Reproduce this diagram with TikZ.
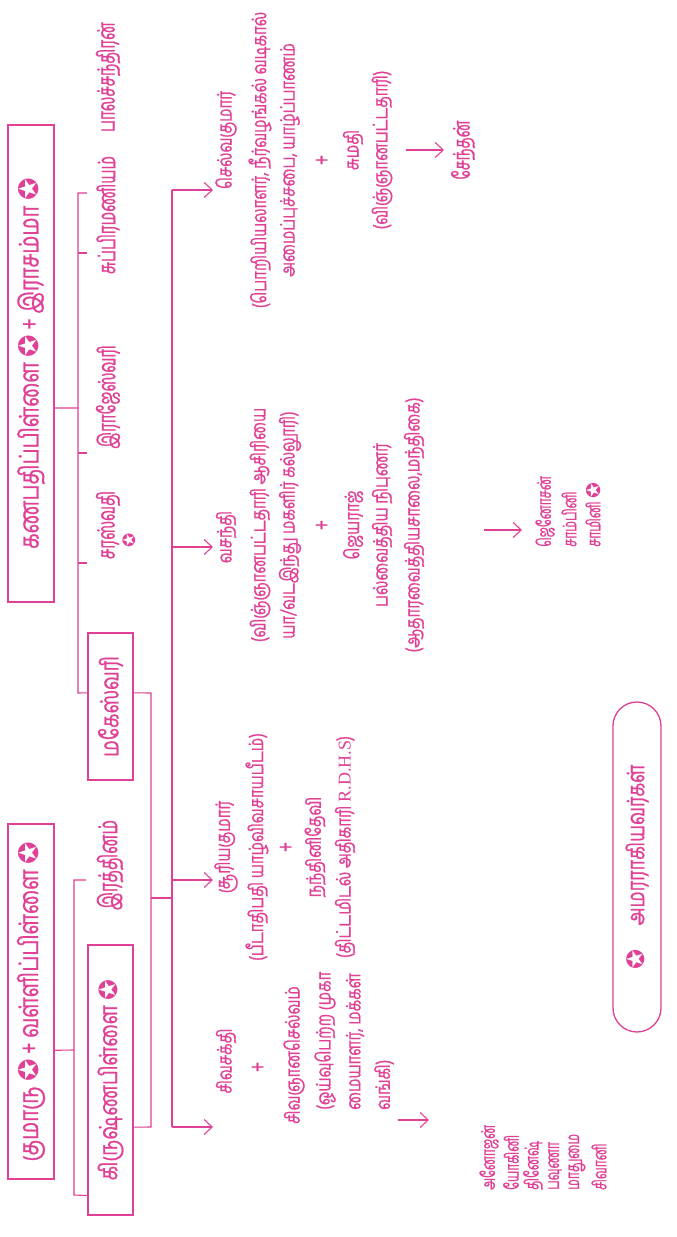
\documentclass[tikz,border=0pt]{standalone}
\usepackage{fontspec}
\usetikzlibrary{arrows.meta,calc}
\newfontfamily\tam[Script=Tamil,FakeStretch=0.75,FakeBold=0.8]{Hind Madurai}
\newfontfamily\tamn[Script=Tamil,FakeStretch=0.63,FakeBold=0.8]{Hind Madurai}
\newfontfamily\symf{DejaVu Sans}
\newfontfamily\romf{Liberation Serif}
\definecolor{ink}{RGB}{224,64,150}
\newcommand{\stsym}{{\symf ✪}}
\begin{document}
\begin{tikzpicture}[x=1pt,y=1pt,rotate=90,transform shape,
  box/.style={draw=ink,line width=1.3pt,inner sep=0pt,text=ink,font=\tam\fontsize{27}{30}\selectfont},
  boxb/.style={box,font=\tam\fontsize{25}{28}\selectfont},
  lbl/.style={text=ink,inner sep=0pt,font=\tamn\fontsize{24}{26}\selectfont},
  tl/.style={text=ink,inner sep=0pt,font=\tam\fontsize{20}{22}\selectfont},
  pl/.style={text=ink,inner sep=0pt,font=\tam\fontsize{25}{26}\selectfont},
  nm/.style={text=ink,inner sep=0pt,font=\tamn\fontsize{19}{21}\selectfont},
  conn/.style={draw=ink,line width=1.1pt},
  arr/.style={draw=ink,line width=1.1pt,-{Straight Barb[length=8pt,width=15pt,line width=1.1pt]}}]
\path[fill=white] (0,0) rectangle (1237,677);
% level 1
\node[box,minimum width=355pt,minimum height=46pt] (A) at (235.5,646) {குமாரு \stsym{} + வள்ளிப்பிள்ளை \stsym};
\node[box,minimum width=477pt,minimum height=46pt] (B) at (873.5,646) {கணபதிப்பிள்ளை \stsym{} + இராசம்மா \stsym};
% level 2
\node[boxb,minimum width=270pt,minimum height=45pt] (C) at (157,566.5) {கிருஷ்ணபிள்ளை \stsym};
\node[lbl,font=\tamn\fontsize{26}{28}\selectfont] (ratn) at (372,567) {இரத்தினம்};
\node[boxb,minimum width=147pt,minimum height=45pt] (M) at (530.5,566.5) {மகேஸ்வரி};
\node[lbl] (sar) at (712,569) {சரஸ்வதி};
\node[lbl,font=\fontsize{17}{18}\selectfont] (sarst) at (697,548) {\stsym};
\node[lbl] (raj) at (840,569) {இராஜேஸ்வரி};
\node[lbl] (sub) at (1022,569) {சுப்பிரமணியம்};
\node[lbl] (bal) at (1160,569) {பாலச்சந்திரன்};
% connectors level 1 -> 2
\coordinate (bA) at (187,603);
\coordinate (bA1) at (42,603);
\coordinate (bA2) at (357,603);
\coordinate (rA) at (357,591);
\draw[conn] ($(A.south west)!0.363!(A.south east)$) -- (bA);
\draw[conn] ($(C.north west)!0.074!(C.north east)$) -- (bA1) -- (bA2) -- (rA);
\coordinate (bB) at (829,599);
\coordinate (bB1) at (544,599);
\coordinate (bB2) at (1044,599);
\coordinate (sB1) at (674,599);
\coordinate (sB2) at (784,599);
\coordinate (sB3) at (984,599);
\draw[conn] ($(B.south west)!0.407!(B.south east)$) -- (bB);
\draw[conn] ($(M.north west)!0.592!(M.north east)$) -- (bB1) -- (bB2) -- (1044,590);
\draw[conn] (sB1) -- (674,590);
\draw[conn] (sB2) -- (784,590);
\draw[conn] (sB3) -- (984,590);
% parents -> trunk
\coordinate (mj) at (544,526);
\coordinate (cj) at (110,526);
\coordinate (tj) at (339,526);
\coordinate (tr0) at (339,505);
\draw[conn] ($(M.south west)!0.592!(M.south east)$) -- (mj) -- (cj) -- ($(C.south west)!0.326!(C.south east)$);
\draw[conn] (tj) -- (tr0);
\coordinate (t1) at (110,505);
\coordinate (t2) at (357,505);
\coordinate (t3) at (690,505);
\coordinate (t4) at (1047,505);
\draw[conn] (t1) -- (t4);
\coordinate (h1) at (110,464);
\coordinate (h2) at (357,464);
\coordinate (h3) at (690,464);
\coordinate (h4) at (1047,464);
\draw[arr] (t1) -- (h1);
\draw[arr] (t2) -- (h2);
\draw[arr] (t3) -- (h3);
\draw[arr] (t4) -- (h4);
% column 1
\node[tl] (c1a) at (176,451) {சிவசக்தி};
\node[pl] (c1b) at (170,418) {+};
\node[tl] (c1c) at (182,383) {சிவஞானசெல்வம்};
\node[tl,anchor=west] (c1d) at (127,352) {(ஓய்வுபெற்ற முகா};
\node[tl,anchor=west] (c1e) at (127,322) {மையாளர், மக்கள்};
\node[tl,anchor=west] (c1f) at (127,293) {வங்கி)};
\coordinate (k1) at (117,279);
\draw[arr] (k1) -- (117,248);
\node[nm,anchor=west] (n1) at (47,188) {அனோஜன்};
\node[nm,anchor=west] (n2) at (47,166) {யோகினி};
\node[nm,anchor=west] (n3) at (47,144) {தினேஷ்};
\node[nm,anchor=west] (n4) at (47,122) {பவுணா};
\node[nm,anchor=west] (n5) at (47,100) {மாதுமை};
\node[nm,anchor=west] (n6) at (47,78) {சிவானி};
% column 2
\node[tl] (c2a) at (390,451) {சூரியகுமார்};
\node[tl] (c2b) at (390,420) {(பீடாதிபதி யாழ்விவசாயபீடம்)};
\node[pl] (c2c) at (390,390) {+};
\node[tl] (c2d) at (390,362) {நந்தினிதேவி};
\node[tl] (c2e) at (390,332) {(திட்டமிடல் அதிகாரி {\romf\fontsize{18}{20}\selectfont R.D.H.S})};
% column 3
\node[tl] (c3a) at (700,451) {வசந்தி};
\node[tl] (c3b) at (712,417) {(விஞ்ஞானபட்டதாரி ஆசிரியை};
\node[tl] (c3c) at (712,387) {யா/வடஇந்து மகளிர் கல்லூரி)};
\node[pl] (c3d) at (712,354) {+};
\node[tl] (c3e) at (712,324) {ஜெயராஜ்};
\node[tl] (c3f) at (712,295) {பல்வைத்திய நிபுணர்};
\node[tl] (c3g) at (712,263) {(ஆதாரவைத்தியசாலை,மந்திகை)};
\coordinate (k3) at (707,193);
\draw[arr] (k3) -- (707,155);
\node[nm,anchor=west] (m1) at (690,132) {ஜெனோசன்};
\node[nm,anchor=west] (m2) at (690,108) {சாம்பினி};
\node[nm,anchor=west] (m3) at (690,84) {சாமினி \stsym};
% column 4
\node[tl] (c4a) at (1097,451) {செல்வகுமார்};
\node[tl] (c4b) at (1077,417) {(பொறியியலாளர், நீர்வழங்கல் வடிகால்};
\node[tl] (c4c) at (1077,387) {அமைப்புச்சபை, யாழ்ப்பாணம்};
\node[pl] (c4d) at (1077,354) {+};
\node[tl] (c4e) at (1087,324) {சுமதி};
\node[tl] (c4f) at (1087,295) {(விஞ்ஞானபட்டதாரி)};
\coordinate (k4) at (1087,271);
\draw[arr] (k4) -- (1087,233);
\node[tl,font=\tamn\fontsize{23}{25}\selectfont] (c4g) at (1087,214) {சேந்தன்};
% legend
\node[box,rounded corners=24pt,minimum width=330pt,minimum height=48pt,font=\tam\fontsize{24}{26}\selectfont] (leg) at (370,40) {\stsym{}\quad அமரராகியவர்கள்};
\end{tikzpicture}
\end{document}
